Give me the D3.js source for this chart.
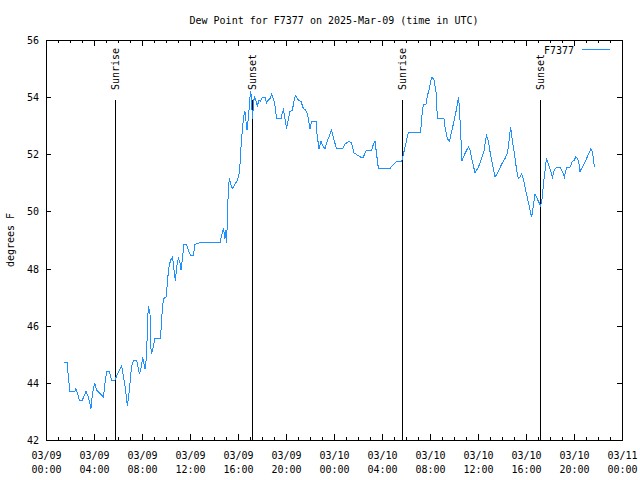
<!DOCTYPE html>
<html>
<head>
<meta charset="utf-8">
<script src="https://cdn.jsdelivr.net/npm/d3@7"></script>
<style>
  html, body { margin: 0; padding: 0; background: #fff; }
  svg { display: block; }
  text { font-family: "DejaVu Sans Mono", monospace; font-size: 10px; fill: #000; }
</style>
</head>
<body>
<svg id="chart" width="640" height="480"></svg>
<script>
// ---- data ----
const title = "Dew Point for F7377 on 2025-Mar-09 (time in UTC)";
const yLabel = "degrees F";
const seriesName = "F7377";

const times = [
"03-09 01:30","03-09 01:46","03-09 01:52","03-09 02:00","03-09 02:25","03-09 02:30","03-09 02:47","03-09 03:02",
"03-09 03:20","03-09 03:32","03-09 03:45","03-09 03:52","03-09 04:03","03-09 04:13","03-09 04:47","03-09 04:55",
"03-09 05:03","03-09 05:17","03-09 05:28","03-09 05:45","03-09 05:57","03-09 06:18","03-09 06:35","03-09 06:47",
"03-09 06:57","03-09 07:08","03-09 07:20","03-09 07:33","03-09 07:47","03-09 07:58","03-09 08:03","03-09 08:15",
"03-09 08:23","03-09 08:27","03-09 08:32","03-09 08:40","03-09 08:43","03-09 08:48","03-09 08:57","03-09 09:05",
"03-09 09:33","03-09 09:38","03-09 09:47","03-09 10:00","03-09 10:07","03-09 10:13","03-09 10:23","03-09 10:33",
"03-09 10:40","03-09 10:47","03-09 10:53","03-09 11:02","03-09 11:10","03-09 11:15","03-09 11:23","03-09 11:30",
"03-09 11:43","03-09 11:52","03-09 12:03","03-09 12:17","03-09 12:25","03-09 12:47","03-09 14:30","03-09 14:38",
"03-09 14:47","03-09 14:55","03-09 15:00","03-09 15:03","03-09 15:08","03-09 15:12","03-09 15:17","03-09 15:22",
"03-09 15:32","03-09 15:45","03-09 15:58","03-09 16:05","03-09 16:10","03-09 16:15","03-09 16:22","03-09 16:28",
"03-09 16:35","03-09 16:40","03-09 16:45","03-09 16:52","03-09 16:57","03-09 17:02","03-09 17:07","03-09 17:12",
"03-09 17:17","03-09 17:22","03-09 17:28","03-09 17:37","03-09 17:45","03-09 17:52","03-09 18:02","03-09 18:15",
"03-09 18:23","03-09 18:32","03-09 18:40","03-09 18:48","03-09 18:57","03-09 19:05","03-09 19:13","03-09 19:35",
"03-09 19:42","03-09 19:47","03-09 19:55","03-09 20:03","03-09 20:12","03-09 20:20","03-09 20:32","03-09 20:42",
"03-09 20:48","03-09 21:02","03-09 21:15","03-09 21:27","03-09 21:38","03-09 21:48","03-09 22:00","03-09 22:08",
"03-09 22:30","03-09 22:33","03-09 22:45","03-09 22:55","03-09 23:07","03-09 23:15","03-09 23:28","03-09 23:37",
"03-09 23:48","03-10 00:02","03-10 00:13","03-10 00:43","03-10 00:55","03-10 01:12","03-10 01:28","03-10 01:40",
"03-10 02:02","03-10 02:13","03-10 02:27","03-10 02:35","03-10 02:43","03-10 03:08","03-10 03:17","03-10 03:25",
"03-10 03:33","03-10 03:42","03-10 04:40","03-10 04:57","03-10 05:13","03-10 05:38","03-10 05:47","03-10 05:55",
"03-10 06:03","03-10 06:12","03-10 07:13","03-10 07:18","03-10 07:27","03-10 07:40","03-10 07:47","03-10 07:57",
"03-10 08:03","03-10 08:10","03-10 08:20","03-10 08:30","03-10 08:37","03-10 09:10","03-10 09:15","03-10 09:27",
"03-10 09:37","03-10 09:48","03-10 10:00","03-10 10:13","03-10 10:23","03-10 10:27","03-10 10:33","03-10 10:40",
"03-10 10:47","03-10 11:00","03-10 11:12","03-10 11:20","03-10 11:28","03-10 11:37","03-10 11:45","03-10 12:02",
"03-10 12:18","03-10 12:30","03-10 12:38","03-10 12:43","03-10 12:52","03-10 13:00","03-10 13:12","03-10 13:25",
"03-10 13:42","03-10 13:58","03-10 14:15","03-10 14:28","03-10 14:35","03-10 14:43","03-10 14:52","03-10 15:02",
"03-10 15:13","03-10 15:22","03-10 15:30","03-10 15:38","03-10 15:47","03-10 15:55","03-10 16:08","03-10 16:20",
"03-10 16:28","03-10 16:37","03-10 16:45","03-10 16:53","03-10 17:02","03-10 17:13","03-10 17:22","03-10 17:27",
"03-10 17:35","03-10 17:42","03-10 17:48","03-10 18:00","03-10 18:12","03-10 18:22","03-10 18:33","03-10 18:50",
"03-10 19:02","03-10 19:12","03-10 19:23","03-10 19:40","03-10 19:52","03-10 20:02","03-10 20:08","03-10 20:18",
"03-10 20:25","03-10 20:30","03-10 20:38","03-10 20:52","03-10 21:03","03-10 21:15","03-10 21:25","03-10 21:33",
"03-10 21:42"
];

const dewPoint = [
44.7,44.7,44.2,43.7,43.7,43.8,43.4,43.4,
43.7,43.5,43.1,43.6,44.0,43.75,43.5,44.0,
44.4,44.4,44.1,44.1,44.3,44.6,43.9,43.2,
43.75,44.6,44.8,44.8,44.3,44.6,44.9,44.5,
44.9,46.0,46.7,46.4,45.3,45.0,45.3,45.55,
45.55,46.25,46.95,47.0,47.5,48.0,48.3,48.4,
47.95,47.55,48.05,48.35,48.2,47.95,48.4,48.85,
48.85,48.65,48.45,48.45,48.85,48.9,48.9,49.15,
49.4,49.05,49.35,48.9,50.0,50.8,51.15,51.0,
50.8,50.95,51.1,51.3,51.65,52.25,52.9,53.3,
53.5,53.15,52.85,53.3,53.7,54.2,54.05,53.25,
53.7,54.05,53.9,53.7,53.9,53.85,54.0,54.0,
53.8,53.9,53.95,54.1,53.95,53.7,53.25,53.25,
53.45,53.55,53.25,52.9,53.25,53.5,53.55,53.95,
54.05,53.9,53.85,53.6,53.55,53.4,52.9,53.15,
53.15,52.8,52.2,52.45,52.25,52.2,52.5,52.65,
52.85,52.45,52.2,52.2,52.35,52.45,52.4,52.05,
51.95,51.9,51.9,52.05,52.15,52.15,52.35,52.45,
52.0,51.5,51.5,51.65,51.75,51.75,52.0,52.25,
52.5,52.75,52.75,53.25,53.75,53.75,54.05,54.3,
54.55,54.7,54.6,54.2,53.25,53.25,52.95,52.55,
52.45,52.8,53.15,53.6,54.0,53.6,52.8,51.75,
51.9,52.1,52.25,52.15,51.85,51.6,51.35,51.55,
51.85,52.1,52.5,52.65,52.45,52.1,51.65,51.2,
51.4,51.65,51.85,52.05,52.45,52.95,52.45,52.05,
51.45,51.15,51.2,51.3,51.15,50.85,50.45,50.05,
49.8,50.2,50.6,50.5,50.35,50.2,50.5,50.95,
51.4,51.85,51.75,51.5,51.2,51.45,51.55,51.55,
51.4,51.2,51.55,51.55,51.75,51.8,51.9,51.85,
51.65,51.4,51.5,51.7,51.85,52.05,52.2,52.05,
51.55
];

const sunTimes = ["03-09 05:46","03-09 17:11","03-10 05:41","03-10 17:11"];
const sunLabels = ["Sunrise","Sunset","Sunrise","Sunset"];

const xDomain = ["03-09 00:00","03-11 00:00"];
const yDomain = [42, 56];
const yTicks = [42, 44, 46, 48, 50, 52, 54, 56];

// ---- drawing ----
const parse = s => d3.utcParse("%Y-%m-%d %H:%M")("2025-" + s);
const data = times.map((t, i) => ({ t: parse(t), v: dewPoint[i] }));

const svg = d3.select("#chart");
const L = 46, R = 622, T = 40, B = 440;

const x = d3.scaleUtc().domain(xDomain.map(parse)).range([L, R]);
const y = d3.scaleLinear().domain(yDomain).range([B, T]);

const majorX = d3.utcHour.every(4).range(x.domain()[0], d3.utcHour.offset(x.domain()[1], 1));
const minorX = d3.utcHour.every(1).range(x.domain()[0], d3.utcHour.offset(x.domain()[1], 1));

// minor ticks bottom & top
svg.append("g").attr("transform", `translate(0,${B})`)
  .call(d3.axisBottom(x).tickValues(minorX).tickSizeInner(-3).tickSizeOuter(0).tickFormat(""))
  .call(g => g.select(".domain").remove());
svg.append("g").attr("transform", `translate(0,${T})`)
  .call(d3.axisTop(x).tickValues(minorX).tickSizeInner(-3).tickSizeOuter(0).tickFormat(""))
  .call(g => g.select(".domain").remove());

// major ticks bottom with labels
const fmtDate = d3.utcFormat("%m/%d"), fmtTime = d3.utcFormat("%H:%M");
const xAxis = svg.append("g").attr("transform", `translate(0,${B})`)
  .call(d3.axisBottom(x).tickValues(majorX).tickSizeInner(-6).tickSizeOuter(0).tickPadding(0).tickFormat(""))
  .call(g => g.select(".domain").remove());
xAxis.selectAll(".tick").each(function(d) {
  const t = d3.select(this).select("text").attr("y", null).attr("dy", null);
  t.append("tspan").attr("x", 0).attr("y", 18.5).text(fmtDate(d));
  t.append("tspan").attr("x", 0).attr("y", 32.5).text(fmtTime(d));
});
svg.append("g").attr("transform", `translate(0,${T})`)
  .call(d3.axisTop(x).tickValues(majorX).tickSizeInner(-6).tickSizeOuter(0).tickFormat(""))
  .call(g => g.select(".domain").remove());

// y axes
svg.append("g").attr("transform", `translate(${L},0)`)
  .call(d3.axisLeft(y).tickValues(yTicks).tickSizeInner(-5).tickSizeOuter(0).tickPadding(7).tickFormat(d3.format("d")))
  .call(g => g.select(".domain").remove())
  .call(g => g.selectAll("text").attr("dy", "0.35em"));
svg.append("g").attr("transform", `translate(${R},0)`)
  .call(d3.axisRight(y).tickValues(yTicks).tickSizeInner(-5).tickSizeOuter(0).tickFormat(""))
  .call(g => g.select(".domain").remove());

svg.selectAll(".tick line").attr("stroke", "#000").attr("shape-rendering", "crispEdges");
svg.selectAll("g").attr("font-family", null).attr("font-size", null);

// border
svg.append("rect")
  .attr("x", L + 0.5).attr("y", T + 0.5)
  .attr("width", R - L).attr("height", B - T)
  .attr("fill", "none").attr("stroke", "#000").attr("shape-rendering", "crispEdges");

// sunrise / sunset
sunTimes.forEach((s, i) => {
  const sx = Math.round(x(parse(s))) + 0.5;
  svg.append("line")
    .attr("x1", sx).attr("x2", sx).attr("y1", y(53.9)).attr("y2", B)
    .attr("stroke", "#000").attr("shape-rendering", "crispEdges");
  svg.append("text")
    .attr("transform", `translate(${sx + 3.5},${y(54.25)}) rotate(-90)`)
    .attr("text-anchor", "start")
    .text(sunLabels[i]);
});

// data line
const line = d3.line().x(d => x(d.t)).y(d => y(d.v));
svg.append("path").datum(data)
  .attr("d", line)
  .attr("fill", "none")
  .attr("stroke", "#1e90ff")
  .attr("stroke-width", 1)
  .attr("shape-rendering", "crispEdges");

// title
svg.append("text").attr("x", (L + R) / 2).attr("y", 24)
  .attr("text-anchor", "middle").text(title);

// y label
svg.append("text")
  .attr("transform", `translate(13.5,${(T + B) / 2}) rotate(-90)`)
  .attr("text-anchor", "middle").text(yLabel);

// legend
svg.append("text").attr("x", 574).attr("y", 53.5).attr("text-anchor", "end").text(seriesName);
svg.append("line").attr("x1", 582).attr("x2", 610).attr("y1", 49.5).attr("y2", 49.5)
  .attr("stroke", "#1e90ff").attr("shape-rendering", "crispEdges");
</script>
</body>
</html>
